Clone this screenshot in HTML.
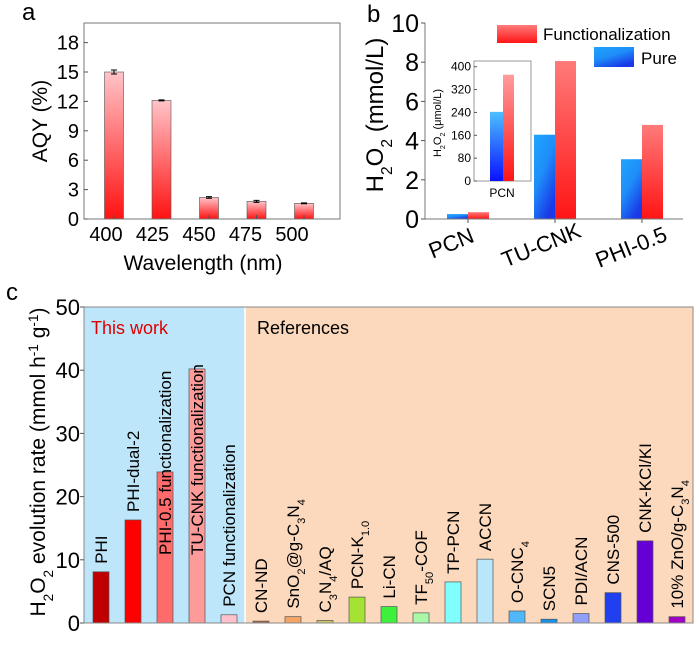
<!DOCTYPE html>
<html><head><meta charset="utf-8"><style>
html,body{margin:0;padding:0;background:#fff;}
svg{display:block;font-family:"Liberation Sans",Arial,sans-serif;}
</style></head><body>
<svg id="fig" width="700" height="659" viewBox="0 0 700 659" xmlns="http://www.w3.org/2000/svg">
<defs>
<linearGradient id="gA" x1="0" y1="0" x2="0" y2="1"><stop offset="0" stop-color="#ffc4c8"/><stop offset="1" stop-color="#ff1212"/></linearGradient>
<linearGradient id="gR" x1="0" y1="0" x2="0" y2="1"><stop offset="0" stop-color="#ff7a7a"/><stop offset="1" stop-color="#ff1515"/></linearGradient>
<linearGradient id="gB" x1="0" y1="0" x2="0.6" y2="1"><stop offset="0" stop-color="#1ea4ff"/><stop offset="0.5" stop-color="#1e8ef8"/><stop offset="1" stop-color="#1a3ae8"/></linearGradient>
<linearGradient id="gRi" x1="0" y1="0" x2="0" y2="1"><stop offset="0" stop-color="#ff9c9c"/><stop offset="1" stop-color="#ff1515"/></linearGradient>
<linearGradient id="gBi" x1="0" y1="0" x2="0" y2="1"><stop offset="0" stop-color="#4cc0ff"/><stop offset="1" stop-color="#0a10ff"/></linearGradient>
</defs>
<g id="pa"></g>
<g id="pb"></g>
<g id="pc"></g>
</svg>
<script>
// ---- panel a data
const aCategories = ["400","425","450","475","500"];
const aValues = [15.0, 12.1, 2.2, 1.8, 1.6];
const aErrors = [0.2, 0.05, 0.08, 0.1, 0.05];
const aTicks = [0,3,6,9,12,15,18];
// ---- panel b data
const bCategories = ["PCN","TU-CNK","PHI-0.5"];
const bPure = [0.25, 4.3, 3.05];
const bFunc = [0.35, 8.06, 4.8];
const bTicks = [0,2,4,6,8,10];
const bInsetPure = [242];
const bInsetFunc = [372];
const bInsetTicks = [0,80,160,240,320,400];
// ---- panel c data
const cCategories = ["PHI","PHI-dual-2","PHI-0.5 functionalization","TU-CNK functionalization","PCN  functionalization","CN-ND","SnO2@g-C3N4","C3N4/AQ","PCN-K1.0","Li-CN","TF50-COF","TP-PCN","ACCN","O-CNC4","SCN5","PDI/ACN","CNS-500","CNK-KCl/KI","10% ZnO/g-C3N4"];
const cValues = [8.1,16.3,23.9,40.2,1.3,0.3,1.0,0.4,4.1,2.6,1.6,6.5,10.1,1.9,0.6,1.5,4.8,13.0,1.0];
const cColors = ["#c00000","#ff0000","#ff6b6b","#ff9a9a","#ffc2cc","#b06848","#f4a464","#c8c864","#a4e234","#3cf03c","#a8f8a8","#80ffff","#b8e6fa","#50b8f8","#1890e8","#90a0f8","#2040f0","#6400d4","#a000c4"];
const cTicks = [0,10,20,30,40,50];
const cLabelInside = [false,false,true,true,false,false,false,false,false,false,false,false,false,false,false,false,false,false,false];

const NS="http://www.w3.org/2000/svg";
function mk(parent,tag,attrs,text){const e=document.createElementNS(NS,tag);for(const k in attrs)e.setAttribute(k,attrs[k]);if(text!==undefined)e.textContent=text;parent.appendChild(e);return e;}
function rich(t,parts,size){parts.forEach(p=>{const s=document.createElementNS(NS,'tspan');s.textContent=p[0];if(p[1]==='sub'){s.setAttribute('font-size',size*0.65);s.setAttribute('baseline-shift','sub');}if(p[1]==='sup'){s.setAttribute('font-size',size*0.65);s.setAttribute('baseline-shift','super');}t.appendChild(s);});}

// ================= PANEL A
(function(){
 const g=document.getElementById('pa');
 const L=84,R=340,T=23,B=219,ymax=20;
 const y=v=>B-(v/ymax)*(B-T);
 const step=47.5, x0=114;
 const x=i=>x0+i*step;
 let t=mk(g,'text',{x:22,y:20,'font-size':24},'a');
 
 aValues.forEach((v,i)=>{
  const r=mk(g,'rect',{x:x(i)-9.5,y:y(v),width:19,height:B-y(v),fill:'url(#gA)',stroke:'#555','stroke-width':0.6});
  
  
  const e=aErrors[i];
  const eb=mk(g,'path',{d:`M${x(i)-3} ${y(v+e)}H${x(i)+3}M${x(i)} ${y(v+e)}V${y(v-e)}M${x(i)-3} ${y(v-e)}H${x(i)+3}`,stroke:'#000','stroke-width':1,fill:'none'});
  
  
 });
 const fr=mk(g,'rect',{x:L,y:T,width:R-L,height:B-T,fill:'none',stroke:'#777','stroke-width':1});
 
 aTicks.forEach(v=>{
  mk(g,'line',{x1:L,x2:L+4,y1:y(v),y2:y(v),stroke:'#555'});
  const tl=mk(g,'text',{x:L-5,y:y(v)+7,'font-size':20,'text-anchor':'end'},String(v));
  
 });
 aCategories.forEach((c,i)=>{
  mk(g,'line',{x1:x(i),x2:x(i),y1:B,y2:B-4,stroke:'#555'});
  const tl=mk(g,'text',{x:x(i)-8+i*-1,y:B+22,'font-size':20,'text-anchor':'middle'},c);
  
 });
 let yt=mk(g,'text',{x:0,y:0,'font-size':21,'text-anchor':'middle',transform:'translate(47,121) rotate(-90)'},'AQY (%)');
 
 let xt=mk(g,'text',{x:203,y:270,'font-size':21,'text-anchor':'middle'},'Wavelength (nm)');
 
})();

// ================= PANEL B
(function(){
 const g=document.getElementById('pb');
 const L=425,R=683,T=23,B=219,ymax=10;
 const y=v=>B-(v/ymax)*(B-T);
 const cx=i=>468+i*87, w=21;
 let t=mk(g,'text',{x:367,y:22,'font-size':24},'b');
 
 bCategories.forEach((c,i)=>{
  const rb=mk(g,'rect',{x:cx(i)-w,y:y(bPure[i]),width:w,height:B-y(bPure[i]),fill:'url(#gB)'});
  
  
  const rr=mk(g,'rect',{x:cx(i),y:y(bFunc[i]),width:w,height:B-y(bFunc[i]),fill:'url(#gR)'});
  
  
  mk(g,'line',{x1:cx(i),x2:cx(i),y1:B,y2:B+4,stroke:'#555'});
  const tl=mk(g,'text',{x:0,y:0,'font-size':22,'text-anchor':'middle',transform:`translate(${cx(i)-14+i*3},${250+i*2}) rotate(-22)`},c);
  
 });
 mk(g,'path',{d:`M${L} ${T}V${B}H${R}`,stroke:'#777',fill:'none'});
 bTicks.forEach(v=>{
  mk(g,'line',{x1:L,x2:L-4,y1:y(v),y2:y(v),stroke:'#555'});
  const tl=mk(g,'text',{x:L-6,y:y(v)+9,'font-size':25,'text-anchor':'end'},String(v));
  
 });
 const yt=mk(g,'text',{x:0,y:0,'font-size':24,'text-anchor':'middle',transform:'translate(383,115) rotate(-90)'});
 rich(yt,[['H'],['2','sub'],['O'],['2','sub'],[' (mmol/L)']],24);
 
 const lr=mk(g,'rect',{x:497,y:25,width:40,height:18,fill:'url(#gR)'});
 
 const lt=mk(g,'text',{x:543,y:40,'font-size':17},'Functionalization');
 
 const lb=mk(g,'rect',{x:594,y:47,width:40,height:20,fill:'url(#gB)'});
 
 const lt2=mk(g,'text',{x:641,y:64,'font-size':17},'Pure');
 
 const iL=474,iR=531,iT=61,iB=181,imax=420;
 const iy=v=>iB-(v/imax)*(iB-iT);
 const ifr=mk(g,'rect',{x:iL,y:iT,width:iR-iL,height:iB-iT,fill:'#fff',stroke:'#999'});
 
 const ib=mk(g,'rect',{x:490,y:iy(bInsetPure[0]),width:13,height:iB-iy(bInsetPure[0]),fill:'url(#gBi)'});
 
 const ir=mk(g,'rect',{x:503,y:iy(bInsetFunc[0]),width:11,height:iB-iy(bInsetFunc[0]),fill:'url(#gRi)'});
 
 bInsetTicks.forEach(v=>{
  mk(g,'line',{x1:iL,x2:iL+3,y1:iy(v),y2:iy(v),stroke:'#555'});
  const tl=mk(g,'text',{x:iL-3,y:iy(v)+4,'font-size':12,'text-anchor':'end'},String(v));
  
 });
 const ix=mk(g,'text',{x:502,y:197,'font-size':12,'text-anchor':'middle'},'PCN');
 
 const iyt=mk(g,'text',{x:0,y:0,'font-size':11,'text-anchor':'middle',transform:'translate(441,123) rotate(-90)'});
 rich(iyt,[['H'],['2','sub'],['O'],['2','sub'],[' (μmol/L)']],11);
 
})();

// ================= PANEL C
(function(){
 const g=document.getElementById('pc');
 const L=84,R=693,T=307,B=623,ymax=50;
 const y=v=>B-(v/ymax)*(B-T);
 const x=i=>101+i*32, w=16;
 let t=mk(g,'text',{x:6,y:300,'font-size':24},'c');
 
 const bg1=mk(g,'rect',{x:L,y:T,width:245-L,height:B-T,fill:'#bde6fa'});
 
 const bg2=mk(g,'rect',{x:245,y:T,width:R-245,height:B-T,fill:'#fcd9bc'});
 
 mk(g,'line',{x1:245,x2:245,y1:T,y2:B,stroke:'#fff','stroke-width':1.5});
 const tw=mk(g,'text',{x:91,y:334,'font-size':18,fill:'#e00000'},'This work');
 
 const rf=mk(g,'text',{x:257,y:334,'font-size':18,fill:'#000'},'References');
 
 function labelParts(s){
  const map={"SnO2@g-C3N4":[['SnO'],['2','sub'],['@g-C'],['3','sub'],['N'],['4','sub']],
   "C3N4/AQ":[['C'],['3','sub'],['N'],['4','sub'],['/AQ']],
   "PCN-K1.0":[['PCN-K'],['1.0','sub']],
   "TF50-COF":[['TF'],['50','sub'],['-COF']],
   "O-CNC4":[['O-CNC'],['4','sub']],
   "10% ZnO/g-C3N4":[['10% ZnO/g-C'],['3','sub'],['N'],['4','sub']]};
  return map[s]||[[s]];
 }
 cValues.forEach((v,i)=>{
  const r=mk(g,'rect',{x:x(i)-w/2,y:y(v),width:w,height:B-y(v),fill:cColors[i],stroke:'#555','stroke-width':0.7});
  
  
  const base=cLabelInside[i]?555:y(v)-8;
  const tl=mk(g,'text',{x:0,y:0,'font-size':17,transform:`translate(${x(i)+6},${base}) rotate(-90)`});
  rich(tl,labelParts(cCategories[i]),17);
  
  
 });
 mk(g,'rect',{x:L,y:T,width:R-L,height:B-T,fill:'none',stroke:'#888','stroke-width':1});
 cTicks.forEach(v=>{
  mk(g,'line',{x1:L,x2:L-4,y1:y(v),y2:y(v),stroke:'#555'});
  const tl=mk(g,'text',{x:L-4,y:y(v)+8,'font-size':22,'text-anchor':'end'},String(v));
  
 });
 const yt=mk(g,'text',{x:0,y:0,'font-size':21,'text-anchor':'middle',transform:'translate(45,462) rotate(-90)'});
 rich(yt,[['H'],['2','sub'],['O'],['2','sub'],[' evolution rate (mmol h'],['-1','sup'],[' g'],['-1','sup'],[')']],21);
 
})();
</script>
</body></html>
